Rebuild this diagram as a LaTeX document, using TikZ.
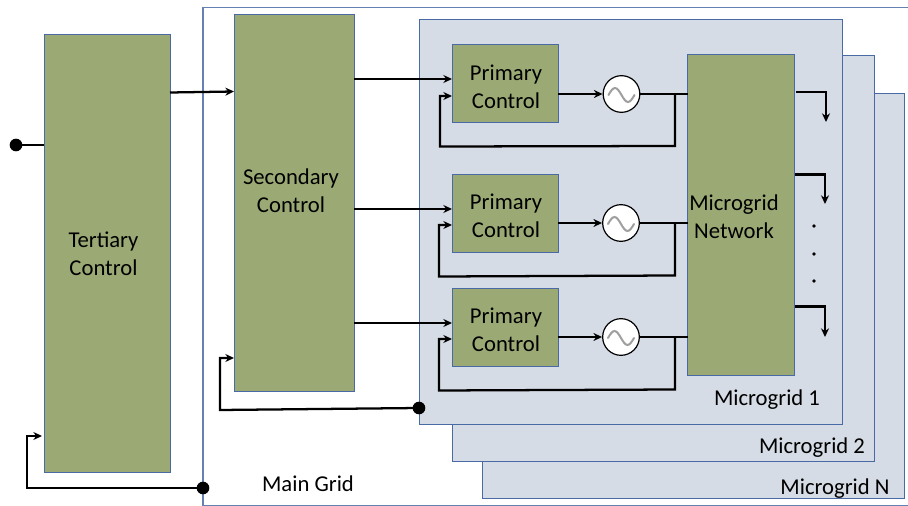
\documentclass[tikz,border=0pt]{standalone}
\usepackage{fontspec}
\setmainfont{Carlito}
\usetikzlibrary{arrows.meta,calc}
\definecolor{boxgreen}{HTML}{9BA974}
\definecolor{gridfill}{HTML}{D6DCE5}
\definecolor{edgeblue}{HTML}{4A6AA5}
\newcommand{\pxbox}[6][greenbox]{\node[#1,minimum width=#4*0.75pt,minimum height=#5*0.75pt,anchor=north west] (#6) at (#2,#3) {};}
\tikzset{
  x=0.75pt,y=-0.75pt,
  greenbox/.style={draw=edgeblue,line width=0.75pt,fill=boxgreen,inner sep=0pt,outer sep=0pt},
  gridbox/.style={draw=edgeblue,line width=0.75pt,fill=gridfill,inner sep=0pt,outer sep=0pt},
  lbl/.style={inner sep=0pt,align=center,font=\fontsize{17}{21}\selectfont,text=black},
  conn/.style={draw=black,line width=1.7pt,line join=miter},
  arr/.style={conn,-{Stealth[length=6.5pt,width=6pt]}},
  blob/.style={circle,fill=black,inner sep=0pt,minimum size=9.5pt},
  tinydot/.style={circle,fill=black,inner sep=0pt,minimum size=2.8pt},
  gen/.style={circle,draw=black,line width=0.9pt,fill=white,inner sep=0pt,minimum size=27.5pt,
    path picture={\draw[gray!75,line width=1.5pt,line cap=round] (path picture bounding box.center) ++(-13,1) sin ++(6.5,-7) cos ++(6.5,7) sin ++(6.5,7) cos ++(6.5,-7);}},
}
\begin{document}
\begin{tikzpicture}
\useasboundingbox (0,0) rectangle (908,506);
\fill[white] (0,0) rectangle (908,506);
% Main grid frame (runs off the right edge)
\draw[edgeblue!85,line width=0.8pt] (908,7.5) -- (203,7.5) -- (203,505.5) -- (908,505.5);
% Microgrid sheets
\pxbox[gridbox]{482}{94}{422}{404}{mgN}
\pxbox[gridbox]{452}{56}{422}{405}{mgB}
\pxbox[gridbox]{419}{20}{423}{404}{mgA}
% Control boxes
\pxbox{44}{35}{126}{437}{tert}
\pxbox{234}{15}{120}{377}{sec}
\pxbox{452}{45}{106}{78}{pa}
\pxbox{452}{174.5}{106}{78}{pb}
\pxbox{452}{288.5}{106}{78}{pc}
\pxbox{687.5}{55}{106.5}{321}{net}
% Generators
\node[gen] (ga) at (621.5,94) {};
\node[gen] (gb) at (621,223) {};
\node[gen] (gc) at (621,337) {};
% Labels
\node[lbl] (ltert) at (103.5,254) {Tertiary\\Control};
\node[lbl] (lsec) at (291,191) {Secondary\\Control};
\node[lbl] (lpa) at (506,87) {Primary\\Control};
\node[lbl] (lpb) at (506,216) {Primary\\Control};
\node[lbl] (lpc) at (506,330) {Primary\\Control};
\node[lbl] (lnet) at (734,217) {Microgrid\\Network};
\node[lbl] (lmgA) at (767,400) {Microgrid 1};
\node[lbl] (lmgB) at (812,448) {Microgrid 2};
\node[lbl] (lmgN) at (835,489) {Microgrid N};
\node[lbl] (lmain) at (308,484) {Main Grid};
% Terminal dots
\node[blob] (din) at (16,145) {};
\node[blob] (dmain) at (203,488) {};
\node[blob] (dmg) at (419,408) {};
\node[tinydot] (ta) at (814,226) {};
\node[tinydot] (tb) at (814,254) {};
\node[tinydot] (tc) at (814,281) {};
% Outer connectors
\draw[conn] (din.center) -- (din.center -| tert.west);
\draw[arr] (tert.east |- 0,92.5) -- (sec.west |- 0,91.5);
\draw[arr] (dmain.center) -- (27,488) -- (27,436) -- ([xshift=-1.5pt]tert.west |- 0,436);
\draw[arr] (dmg.center) -- (220,410) -- (220,358) -- (sec.west |- 0,358);
% Secondary to primary
\draw[arr] (sec.east |- 0,79) -- (pa.west |- 0,79);
\draw[arr] (sec.east |- 0,209) -- (pb.west |- 0,209);
\draw[arr] (sec.east |- 0,323) -- (pc.west |- 0,323);
% Primary loops
\draw[arr] (pa.east |- ga.west) -- (ga.west);
\draw[conn] (ga.east) -- (net.west |- ga.east);
\draw[arr] (675,94) -- (675,146) -- (440,146.5) -- (440,96) -- (pa.west |- 0,96);
\draw[arr] (pb.east |- gb.west) -- (gb.west);
\draw[conn] (gb.east) -- (net.west |- gb.east);
\draw[arr] (675,223) -- (675,275.5) -- (439,276.5) -- (439,225) -- (pb.west |- 0,225);
\draw[arr] (pc.east |- gc.west) -- (gc.west);
\draw[conn] (gc.east) -- (net.west |- gc.east);
\draw[arr] (675,337) -- (675,389.5) -- (439,390.5) -- (439,339) -- (pc.west |- 0,339);
% Network outputs
\draw[arr] ([xshift=1.5pt]net.east |- 0,92) -- (826,92) -- (826,122);
\draw[arr] ([xshift=1pt]net.east |- 0,174.5) -- (825,174.5) -- (825,204);
\draw[arr] ([xshift=1pt]net.east |- 0,306.5) -- (825,306.5) -- (825,337);
\end{tikzpicture}
\end{document}
